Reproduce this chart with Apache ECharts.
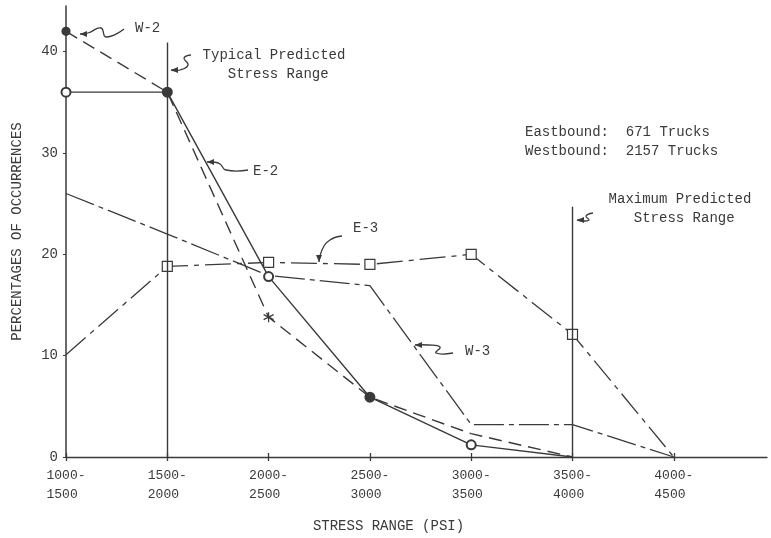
<!DOCTYPE html>
<html>
<head>
<meta charset="utf-8">
<title>Stress range occurrences</title>
<script src="https://cdn.jsdelivr.net/npm/echarts@6/dist/echarts.min.js"></script>
<style>
    html, body { margin: 0; padding: 0; background: #fff; }
    #chart { width: 771px; height: 538px; }
</style>
</head>
<body>
<div id="chart"></div>
<script>
// stress range bins (x index 0..6)
var categories = ['1000-\n1500 ', '1500-\n2000 ', '2000-\n2500 ', '2500-\n3000 ',
                  '3000-\n3500 ', '3500-\n4000 ', '4000-\n4500 '];
var xTicks = [0, 1, 2, 3, 4, 5, 6];
var yTicks = [0, 10, 20, 30, 40];

// percentages of occurrences
var e2 = [36, 36, 17.8, 5.9, 1.2, 0];
var w2 = [42, 36, 13.8, 5.9, 2.3, 0];
var e3 = [10.1, 18.8, 19.2, 19.0, 20.0, 12.1, 0];
var w3 = [26, 22, 17.9, 16.9, 3.2, 3.2, 0];

// vertical "predicted stress range" lines: [x index, top value]
var typicalLine = [1, 40.9];
var maximumLine = [5, 24.7];

var INK = '#3a3a3a';
var FONT = '"Liberation Mono", "DejaVu Sans Mono", monospace';

var ASTERISK = 'path://M0,-5L0,5M-4.3,-2.5L4.3,2.5M-4.3,2.5L4.3,-2.5';

function pairs(arr) {
    return arr.map(function(v, i) { return [i, v]; });
}

function e2Data() {
    return e2.map(function(v, i) {
        var item = { value: [i, v] };
        if (i === 5) item.symbol = 'none';
        return item;
    });
}

function w2Data() {
    var syms = ['circle', 'circle', ASTERISK, 'circle', 'none', 'none'];
    return w2.map(function(v, i) {
        var item = { value: [i, v], symbol: syms[i] };
        if (syms[i] === 'circle') {
            item.symbolSize = 8;
            item.itemStyle = { color: INK };
        }
        return item;
    });
}

function e3Data() {
    return e3.map(function(v, i) {
        var item = { value: [i, v] };
        if (i === 0 || i === 6) item.symbol = 'none';
        return item;
    });
}

function txt(x, y, s, align) {
    return {
        type: 'text', x: x, y: y, silent: true,
        style: {
            text: s, fill: INK, font: '14px ' + FONT,
            align: align || 'left', verticalAlign: 'middle', lineHeight: 19
        }
    };
}

// squiggle leader ending in an arrowhead at the last point
function arrow(points, tipDir) {
    var tip = points[points.length - 1];
    var a = tipDir, len = 7, w = 3;
    var bx = tip[0] - Math.cos(a) * len, by = tip[1] - Math.sin(a) * len;
    var nx = -Math.sin(a) * w, ny = Math.cos(a) * w;
    return [
        {
            type: 'polyline', silent: true,
            shape: { points: points, smooth: 0.5 },
            style: { stroke: INK, lineWidth: 1.3, fill: null }
        },
        {
            type: 'polygon', silent: true,
            shape: { points: [tip, [bx + nx, by + ny], [bx - nx, by - ny]] },
            style: { fill: INK }
        }
    ];
}

var chart = echarts.init(document.getElementById('chart'), null, { renderer: 'canvas' });

var graphics = [
    txt(135, 28, 'W-2'),
    txt(274, 65, 'Typical Predicted\n Stress Range', 'center'),
    txt(253, 171, 'E-2'),
    txt(353, 228, 'E-3'),
    txt(465, 351, 'W-3'),
    txt(525, 132, 'Eastbound:  671 Trucks'),
    txt(525, 151, 'Westbound:  2157 Trucks'),
    txt(680, 209, 'Maximum Predicted\n Stress Range', 'center')
]
    .concat(arrow([[124, 29], [106, 37], [101, 28], [88, 33], [80, 34]], Math.PI))
    .concat(arrow([[191, 55], [184, 58], [188, 65], [180, 70], [171, 70]], Math.PI))
    .concat(arrow([[248, 170], [226, 170], [220, 164], [213, 162], [207, 162]], Math.PI))
    .concat(arrow([[342, 236], [330, 240], [322, 250], [319, 262]], Math.PI / 2))
    .concat(arrow([[453, 353], [436, 353], [440, 347], [428, 345], [415, 345]], Math.PI))
    .concat(arrow([[593, 213], [586, 216], [589, 220], [584, 221], [577, 220]], Math.PI));

var option = {
    backgroundColor: '#fff',
    animation: false,
    textStyle: { fontFamily: FONT, color: INK },
    grid: { left: 66, right: 4, top: 6, bottom: 78 },
    xAxis: [
        {
            type: 'value',
            min: 0,
            max: 6.92,
            interval: 1,
            name: 'STRESS RANGE (PSI)',
            nameLocation: 'middle',
            nameGap: 62,
            nameTextStyle: { fontSize: 14, color: INK, fontFamily: FONT, padding: [0, 56, 0, 0] },
            axisLine: { lineStyle: { color: INK, width: 1.3 } },
            axisTick: { show: true, length: 4, customValues: xTicks, lineStyle: { color: INK, width: 1.3 } },
            axisLabel: {
                showMaxLabel: false,
                margin: 9,
                fontSize: 13,
                lineHeight: 19,
                color: INK,
                fontFamily: FONT,
                formatter: function(v) {
                    return categories[Math.round(v)] || '';
                }
            },
            splitLine: { show: false }
        },
        {
            // inner half of the cross ticks on the stress axis
            type: 'value',
            position: 'bottom',
            min: 0,
            max: 6.92,
            interval: 1,
            axisLine: { show: false },
            axisTick: { show: true, inside: true, length: 4, customValues: xTicks, lineStyle: { color: INK, width: 1.3 } },
            axisLabel: { show: false },
            splitLine: { show: false }
        }
    ],
    yAxis: {
        type: 'value',
        min: yTicks[0],
        max: 44.5,
        interval: yTicks[1] - yTicks[0],
        name: 'PERCENTAGES OF OCCURRENCES',
        nameLocation: 'middle',
        nameGap: 42,
        nameTextStyle: { fontSize: 14, color: INK, fontFamily: FONT },
        axisLine: { show: true, lineStyle: { color: INK, width: 1.5 } },
        axisTick: { show: true, length: 3, customValues: yTicks, lineStyle: { color: INK } },
        axisLabel: {
            showMaxLabel: false,
            margin: 8,
            fontSize: 14,
            color: INK,
            fontFamily: FONT
        },
        splitLine: { show: false }
    },
    series: [
        {
            name: 'E-2',
            type: 'line',
            data: e2Data(),
            symbol: 'emptyCircle',
            symbolSize: 9,
            lineStyle: { color: INK, width: 1.4, type: 'solid' },
            itemStyle: { color: INK, borderWidth: 1.3 },
            markLine: {
                silent: true,
                symbol: 'none',
                label: { show: false },
                lineStyle: { color: INK, width: 1.4, type: 'solid' },
                data: [
                    [{ coord: [typicalLine[0], 0] }, { coord: typicalLine }],
                    [{ coord: [maximumLine[0], 0] }, { coord: maximumLine }]
                ]
            }
        },
        {
            name: 'W-2',
            type: 'line',
            data: w2Data(),
            symbolSize: 10,
            lineStyle: { color: INK, width: 1.4, type: [13, 7] },
            itemStyle: { color: 'none', borderColor: INK, borderWidth: 1.2 }
        },
        {
            name: 'E-3',
            type: 'line',
            data: e3Data(),
            symbol: 'rect',
            symbolSize: 10,
            lineStyle: { color: INK, width: 1.3, type: [26, 6, 5, 6] },
            itemStyle: { color: '#fff', borderColor: INK, borderWidth: 1.2 }
        },
        {
            name: 'W-3',
            type: 'line',
            data: pairs(w3),
            symbol: 'none',
            lineStyle: { color: INK, width: 1.3, type: [30, 5, 5, 5] }
        }
    ],
    graphic: graphics
};

chart.setOption(option);
</script>
</body>
</html>
